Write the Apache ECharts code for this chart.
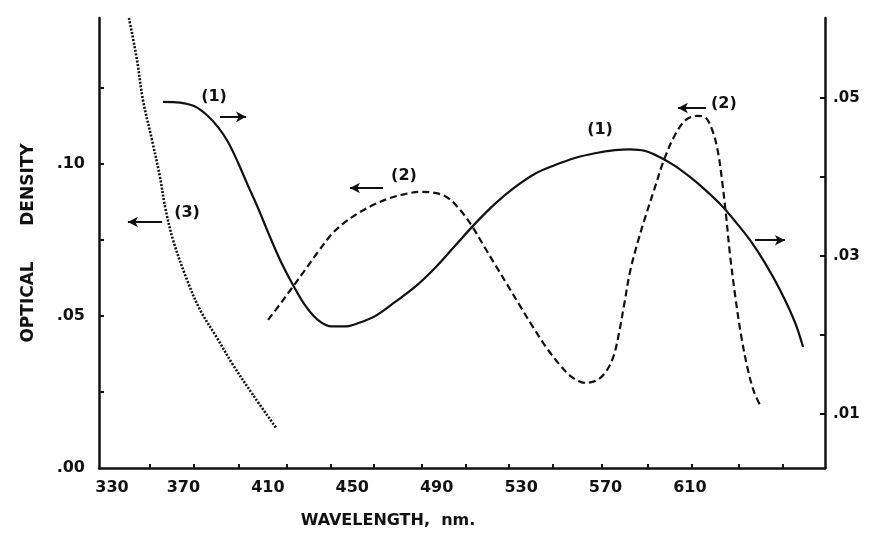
<!DOCTYPE html>
<html>
<head>
<meta charset="utf-8">
<script src="https://cdn.jsdelivr.net/npm/echarts@6/dist/echarts.min.js"></script>
<style>
  html, body { margin: 0; padding: 0; background: #fff; }
  #main { width: 873px; height: 546px; }
</style>
</head>
<body>
<div id="main"></div>
<script>
// curve (1) solid, read against the right-hand scale
var solidNm = [360.3, 368.4, 375.5, 381.2, 386.4, 391.2, 395.9, 400.6, 405.3, 410.1, 415.8, 421.4, 427.6, 433.8, 440.4, 446.6, 452.7, 460.8, 470.3, 479.7, 489.2, 498.7, 508.2, 517.6, 527.1, 536.6, 546.1, 555.5, 565.0, 574.5, 581.6, 588.7, 595.8, 602.9, 610.0, 617.1, 624.2, 631.4, 638.5, 645.6, 652.7, 659.8, 663.6];
var solidOD = [0.0495, 0.0494, 0.0489, 0.0478, 0.0463, 0.0444, 0.0418, 0.0389, 0.0361, 0.0330, 0.0295, 0.0266, 0.0238, 0.0219, 0.0211, 0.0211, 0.0215, 0.0224, 0.0242, 0.0261, 0.0285, 0.0313, 0.0341, 0.0366, 0.0387, 0.0404, 0.0415, 0.0424, 0.0430, 0.0434, 0.0435, 0.0433, 0.0425, 0.0414, 0.0400, 0.0384, 0.0366, 0.0344, 0.0320, 0.0291, 0.0257, 0.0216, 0.0185];

// curve (2) dashed, left-hand scale
var dashedNm = [410.1, 415.8, 421.4, 427.6, 433.8, 440.4, 446.6, 453.7, 460.8, 467.9, 475.0, 482.1, 489.2, 495.4, 501.1, 506.7, 512.4, 518.1, 523.8, 529.5, 535.6, 541.8, 548.0, 554.1, 560.3, 566.0, 570.7, 574.0, 576.4, 578.8, 581.6, 584.9, 588.7, 593.0, 597.7, 602.9, 608.1, 613.3, 617.6, 620.9, 623.3, 625.2, 627.1, 629.0, 631.4, 634.2, 637.5, 640.4, 643.2];
var dashedOD = [0.0487, 0.0539, 0.0592, 0.0651, 0.0711, 0.0770, 0.0809, 0.0842, 0.0868, 0.0888, 0.0901, 0.0908, 0.0905, 0.0888, 0.0849, 0.0796, 0.0730, 0.0664, 0.0599, 0.0533, 0.0464, 0.0398, 0.0342, 0.0299, 0.0280, 0.0289, 0.0322, 0.0372, 0.0444, 0.0536, 0.0645, 0.0734, 0.0822, 0.0914, 0.1013, 0.1095, 0.1145, 0.1158, 0.1151, 0.1105, 0.1039, 0.0947, 0.0832, 0.0701, 0.0569, 0.0438, 0.0322, 0.0250, 0.0207];

// curve (3) dotted, left-hand scale
var dottedNm = [344.2, 348.0, 350.8, 355.1, 358.9, 361.3, 365.1, 371.7, 377.9, 385.9, 393.5, 403.0, 413.9];
var dottedOD = [0.148, 0.1342, 0.1211, 0.1079, 0.0957, 0.0859, 0.0750, 0.0619, 0.0520, 0.0428, 0.0339, 0.0240, 0.0132];

// axis ticks and labels
var xLabelValues = [330, 370, 410, 450, 490, 530, 570, 610];
var xTickValues = [354, 375, 396, 419, 440, 460, 483, 504, 524, 545, 568, 590, 611, 633, 654];
var leftLabelValues = [0, 0.05, 0.10];
var leftTickValues = [0.025, 0.05, 0.075, 0.10, 0.125];
var rightLabelValues = [0.01, 0.03, 0.05];
var rightTickValues = [0.01, 0.02, 0.03, 0.04, 0.05];

// curve tags: [nm, OD, text]
var leftTags = [[371.7, 0.0839, '(3)'], [474.5, 0.0961, '(2)'], [626.1, 0.1197, '(2)']];
var rightTags = [[384.5, 0.0501, '(1)'], [567.4, 0.0459, '(1)']];
// arrows: [fromNm, toNm, OD]
var leftArrows = [[359.9, 343.7, 0.0809], [464.6, 448.9, 0.0921], [617.6, 604.3, 0.1184]];
var rightArrows = [[387.3, 399.7, 0.0476], [640.8, 655.0, 0.0320]];

function zip(a, b) {
  return a.map(function (v, i) { return [v, b[i]]; });
}
function odFmt(v) {
  return v.toFixed(2).replace(/^0/, '');
}
function arrowLines(list) {
  return list.map(function (a) {
    return [
      { coord: [a[0], a[2]], symbol: 'none' },
      { coord: [a[1], a[2]], symbol: 'arrow', symbolSize: [8, 10] }
    ];
  });
}

var ink = '#111';
var font = 'DejaVu Sans';

var chart = echarts.init(document.getElementById('main'));
var option = {
  animation: false,
  backgroundColor: '#fff',
  grid: { left: 99, right: 48, top: 18, bottom: 78 },
  xAxis: {
    type: 'value',
    min: 330,
    max: 674,
    name: 'WAVELENGTH,  nm.',
    nameLocation: 'middle',
    nameGap: 45,
    nameTextStyle: { color: ink, fontFamily: font, fontWeight: 'bold', fontSize: 16, padding: [0, 148, 0, 0] },
    axisLine: { lineStyle: { color: ink, width: 2.5 } },
    axisTick: { inside: true, length: 4, customValues: xTickValues, lineStyle: { color: ink, width: 2 } },
    axisLabel: {
      customValues: xLabelValues,
      margin: 12,
      color: ink, fontFamily: font, fontWeight: 'bold', fontSize: 16,
      formatter: function (v) { return v === 330 ? '{a|330}' : String(v); },
      rich: { a: { padding: [0, 0, 0, 26], color: ink, fontFamily: font, fontWeight: 'bold', fontSize: 16 } }
    },
    splitLine: { show: false }
  },
  yAxis: [
    {
      type: 'value',
      position: 'left',
      min: 0,
      max: 0.148,
      name: 'OPTICAL      DENSITY',
      nameLocation: 'middle',
      nameGap: 62,
      nameTextStyle: { color: ink, fontFamily: font, fontWeight: 'bold', fontSize: 17 },
      axisLine: { show: true, lineStyle: { color: ink, width: 2.5 } },
      axisTick: { show: true, inside: true, length: 5, customValues: leftTickValues, lineStyle: { color: ink, width: 2 } },
      axisLabel: {
        customValues: leftLabelValues,
        margin: 14,
        color: ink, fontFamily: font, fontWeight: 'bold', fontSize: 16,
        formatter: odFmt
      },
      splitLine: { show: false }
    },
    {
      type: 'value',
      position: 'right',
      min: 0.0032,
      max: 0.0601,
      axisLine: { show: true, lineStyle: { color: ink, width: 2.5 } },
      axisTick: { show: true, inside: true, length: 5, customValues: rightTickValues, lineStyle: { color: ink, width: 2 } },
      axisLabel: {
        customValues: rightLabelValues,
        margin: 8,
        color: ink, fontFamily: font, fontWeight: 'bold', fontSize: 15,
        formatter: odFmt
      },
      splitLine: { show: false }
    }
  ],
  series: [
    {
      name: '(1)',
      type: 'line',
      yAxisIndex: 1,
      data: zip(solidNm, solidOD),
      smooth: 0.35,
      showSymbol: false,
      lineStyle: { color: ink, width: 2.2 },
      markLine: {
        silent: true,
        label: { show: false },
        lineStyle: { color: ink, width: 2, type: 'solid' },
        data: arrowLines(rightArrows)
      }
    },
    {
      name: '(2)',
      type: 'line',
      yAxisIndex: 0,
      data: zip(dashedNm, dashedOD),
      smooth: 0.35,
      showSymbol: false,
      lineStyle: { color: ink, width: 2.2, type: [7, 4] },
      markLine: {
        silent: true,
        label: { show: false },
        lineStyle: { color: ink, width: 2, type: 'solid' },
        data: arrowLines(leftArrows)
      }
    },
    {
      name: '(3)',
      type: 'line',
      yAxisIndex: 0,
      data: zip(dottedNm, dottedOD),
      smooth: 0.35,
      showSymbol: false,
      lineStyle: { color: ink, width: 2.6, type: [2, 1.6] }
    },
    {
      type: 'scatter',
      yAxisIndex: 0,
      symbolSize: 0,
      silent: true,
      itemStyle: { opacity: 1 },
      data: leftTags,
      label: {
        show: true, position: 'inside',
        color: ink, fontFamily: font, fontWeight: 'bold', fontSize: 16,
        formatter: function (p) { return p.value[2]; }
      }
    },
    {
      type: 'scatter',
      yAxisIndex: 1,
      symbolSize: 0,
      silent: true,
      itemStyle: { opacity: 1 },
      data: rightTags,
      label: {
        show: true, position: 'inside',
        color: ink, fontFamily: font, fontWeight: 'bold', fontSize: 16,
        formatter: function (p) { return p.value[2]; }
      }
    }
  ]
};
chart.setOption(option);
</script>
</body>
</html>
